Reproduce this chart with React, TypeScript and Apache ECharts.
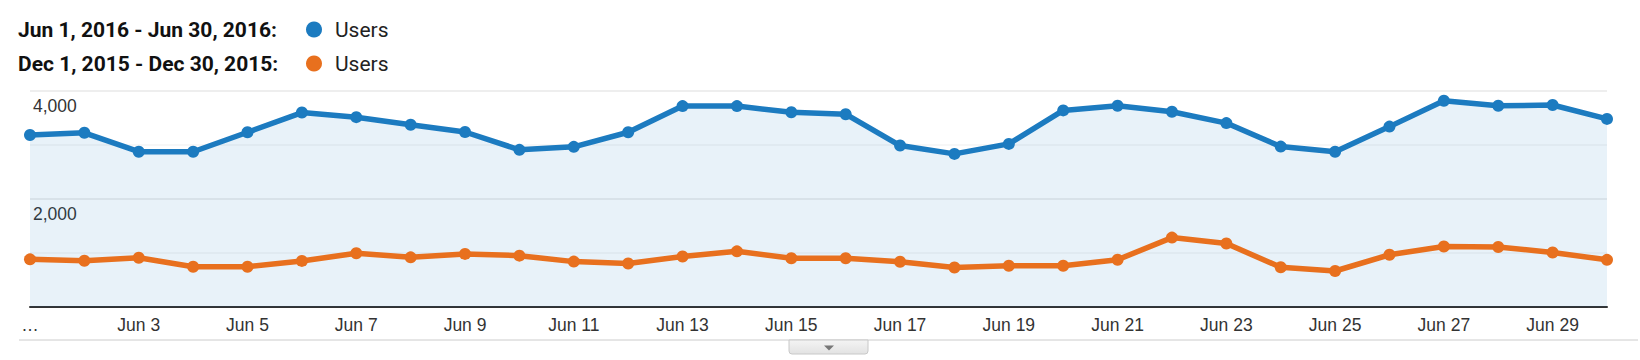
import React, { useEffect, useRef } from "react";
import * as echarts from "echarts";

const categories: string[] = [
  "Jun 1", "Jun 2", "Jun 3", "Jun 4", "Jun 5", "Jun 6", "Jun 7", "Jun 8", "Jun 9", "Jun 10",
  "Jun 11", "Jun 12", "Jun 13", "Jun 14", "Jun 15", "Jun 16", "Jun 17", "Jun 18", "Jun 19", "Jun 20",
  "Jun 21", "Jun 22", "Jun 23", "Jun 24", "Jun 25", "Jun 26", "Jun 27", "Jun 28", "Jun 29", "Jun 30",
];

const usersJun2016: number[] = [
  3180, 3220, 2870, 2870, 3230, 3595, 3510, 3370, 3235, 2905,
  2960, 3230, 3715, 3715, 3600, 3565, 2985, 2830, 3015, 3635,
  3720, 3610, 3400, 2965, 2870, 3335, 3815, 3720, 3735, 3478,
];

const usersDec2015: number[] = [
  877, 852, 907, 741, 741, 848, 990, 914, 978, 945,
  835, 800, 930, 1025, 896, 896, 833, 725, 759, 759,
  870, 1280, 1170, 730, 661, 962, 1115, 1105, 1005, 868,
];

const rangeLabels: string[] = ["Jun 1, 2016 - Jun 30, 2016:", "Dec 1, 2015 - Dec 30, 2015:"];
const metricLabels: string[] = ["Users", "Users"];
const yTicks: number[] = [0, 2000, 4000];

const BLUE = "#1c7bc0";
const ORANGE = "#e8701e";

export default function App() {
  const ref = useRef<HTMLDivElement>(null);

  useEffect(() => {
    if (!ref.current) return;
    const chart = echarts.init(ref.current, null, { renderer: "svg" });
    const colors = [BLUE, ORANGE];
    const legendGraphics: any[] = [];
    rangeLabels.forEach((lab, i) => {
      const cy = 29.5 + i * 34;
      legendGraphics.push({
        type: "text",
        x: 18,
        y: cy,
        style: {
          text: lab,
          fill: "#111",
          font: "bold 21px Roboto",
          verticalAlign: "middle",
        },
      });
      legendGraphics.push({
        type: "circle",
        shape: { cx: 314, cy, r: 8 },
        style: { fill: colors[i] },
      });
      legendGraphics.push({
        type: "text",
        x: 335,
        y: cy,
        style: {
          text: metricLabels[i],
          fill: "#222",
          font: "21px Roboto",
          verticalAlign: "middle",
        },
      });
    });

    const option: any = {
      animation: false,
      grid: { left: 30, right: 33, top: 90.7, bottom: 53.3, containLabel: false },
      xAxis: {
        type: "category",
        data: categories,
        boundaryGap: false,
        axisLine: { show: true, lineStyle: { color: "#333", width: 2 } },
        axisTick: { show: false },
        splitLine: { show: false },
        axisLabel: {
          interval: 1,
          margin: 9,
          color: "#333",
          fontSize: 17.5,
          fontFamily: "Liberation Sans, Arial, sans-serif",
          formatter: (v: string, idx: number) => (idx === 0 ? "…" : v),
        },
      },
      yAxis: {
        type: "value",
        min: yTicks[0],
        max: yTicks[yTicks.length - 1],
        interval: yTicks[1] - yTicks[0],
        axisLine: { show: false },
        axisTick: { show: false },
        splitLine: { show: true, lineStyle: { color: "#e8e8e8", width: 1.5 } },
        minorTick: { show: false, splitNumber: 2 },
        minorSplitLine: { show: true, lineStyle: { color: "#f5f5f5", width: 1.5 } },
        axisLabel: {
          inside: true,
          showMinLabel: false,
          margin: 3,
          align: "left",
          verticalAlign: "top",
          padding: [6, 0, 0, 0],
          color: "#333",
          fontSize: 17.5,
          fontFamily: "Liberation Sans, Arial, sans-serif",
          textBorderColor: "#fff",
          textBorderWidth: 3,
          formatter: (v: number) => v.toLocaleString("en-US"),
        },
      },
      series: [
        {
          name: rangeLabels[0],
          type: "line",
          data: usersJun2016,
          symbol: "circle",
          symbolSize: 12,
          showSymbol: true,
          lineStyle: { color: BLUE, width: 5.5 },
          itemStyle: { color: BLUE },
          areaStyle: { color: "rgba(28,123,192,0.145)", origin: "start" },
          z: 3,
        },
        {
          name: rangeLabels[1],
          type: "line",
          data: usersDec2015,
          symbol: "circle",
          symbolSize: 12,
          showSymbol: true,
          lineStyle: { color: ORANGE, width: 5.5 },
          itemStyle: { color: ORANGE },
          z: 4,
        },
      ],
      graphic: [
        ...legendGraphics,
        {
          type: "line",
          shape: { x1: 19, y1: 340, x2: 1638, y2: 340 },
          style: { stroke: "#cccccc", lineWidth: 1 },
        },
        {
          type: "rect",
          shape: { x: 789, y: 340, width: 79, height: 14, r: [0, 0, 3, 3] },
          style: {
            fill: new echarts.graphic.LinearGradient(0, 0, 0, 1, [
              { offset: 0, color: "#f4f4f4" },
              { offset: 1, color: "#e2e2e2" },
            ]),
            stroke: "#c8c8c8",
            lineWidth: 1,
          },
        },
        {
          type: "polygon",
          shape: { points: [[824, 345.5], [834, 345.5], [829, 350.5]] },
          style: { fill: "#777" },
        },
      ],
    };
    chart.setOption(option);
    return () => chart.dispose();
  }, []);

  return (
    <div
      ref={ref}
      style={{ position: "absolute", left: 0, top: 0, width: 1640, height: 360, background: "#fff" }}
    />
  );
}
